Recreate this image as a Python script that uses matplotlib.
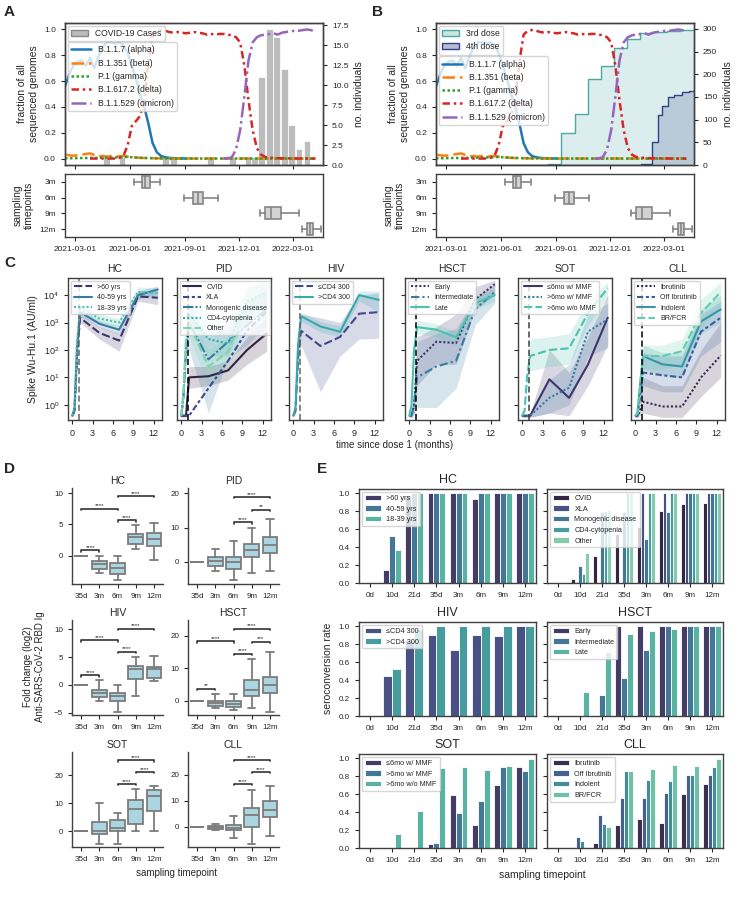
import numpy as np
import pandas as pd
import matplotlib
matplotlib.use("Agg")
import matplotlib.pyplot as plt
import matplotlib.dates as mdates
from matplotlib.patches import Patch
from matplotlib.ticker import NullLocator
import seaborn as sns

nan = np.nan

# ---------------- A / B : variant fractions (weekly) ----------------
weeks = pd.date_range("2021-02-12", periods=61, freq="7D")
alpha_frac = [0.56, 0.65, 0.72, 0.75, 0.76, 0.72, 0.78, 0.70, 0.79, 0.86,
              0.90, 0.90, 0.89, 0.90, 0.88, 0.82, 0.72, 0.62, 0.50, 0.40,
              0.27, 0.12, 0.05, 0.02, 0.01, 0.005, 0.003, 0.002, 0.001, 0.0,
              nan, nan, nan, nan, nan, nan, nan, nan, nan, nan,
              nan, nan, nan, nan, nan, nan, nan, nan, nan, nan,
              nan, nan, nan, nan, nan, nan, nan, nan, nan, nan,
              nan]
beta_frac = [0.030, 0.025, 0.022, 0.025, 0.030, 0.035, 0.040, 0.028, 0.015, 0.020,
             0.015, 0.020, 0.012, 0.018, 0.020, 0.015, 0.010, 0.008, 0.005, 0.004,
             0.003, 0.002, 0.002, 0.001, 0.001, 0, 0, 0, 0, 0,
             0, 0, 0, 0, 0, 0, 0, 0, 0, 0,
             0, 0, 0, 0, 0, 0, 0, 0, 0, 0,
             0, 0, 0, 0, 0, 0, 0, 0, 0, 0,
             0]
gamma_frac = [0.002, 0.002, 0.003, 0.003, 0.004, 0.004, 0.005, 0.005, 0.006, 0.006,
              0.007, 0.008, 0.008, 0.010, 0.012, 0.012, 0.010, 0.008, 0.006, 0.005,
              0.004, 0.003, 0.002, 0.002, 0.001, 0, 0, 0, 0, 0,
              0, 0, 0, 0, 0, 0, 0, 0, 0, 0,
              0, 0, 0, 0, 0, 0, 0, 0, 0, 0,
              0, 0, 0, 0, 0, 0, 0, 0, 0, 0,
              0]
delta_frac = [nan, nan, nan, nan, nan, nan, 0, 0, 0, 0,
              0, 0, 0, 0.005, 0.02, 0.10, 0.25, 0.29, 0.33, 0.45,
              0.75, 0.96, 0.99, 0.995, 0.99, 0.98, 0.975, 0.98, 0.975, 0.97,
              0.975, 0.98, 0.975, 0.97, 0.96, 0.965, 0.96, 0.965, 0.965, 0.96,
              0.955, 0.94, 0.90, 0.72, 0.45, 0.22, 0.08, 0.03, 0.012, 0.008,
              0.005, 0.003, 0.002, 0.002, 0.001, 0.001, 0, 0, 0, 0,
              0]
omicron_frac = [nan, nan, nan, nan, nan, nan, nan, nan, nan, nan,
                nan, nan, nan, nan, nan, nan, nan, nan, nan, nan,
                nan, nan, nan, nan, nan, nan, nan, nan, nan, nan,
                nan, nan, nan, nan, nan, nan, nan, nan, 0, 0.002,
                0.01, 0.07, 0.22, 0.48, 0.76, 0.90, 0.94, 0.955, 0.96, 0.965,
                0.97, 0.96, 0.975, 0.98, 0.985, 0.99, 0.99, 0.995, 1.0, 0.995,
                0.98]

case_dates = pd.to_datetime(["2021-04-23", "2021-05-19", "2021-07-31", "2021-08-13", "2021-10-14",
                             "2021-11-20", "2021-12-16", "2021-12-27", "2022-01-08", "2022-01-21",
                             "2022-02-02", "2022-02-15", "2022-02-27", "2022-03-12", "2022-03-25"])
case_counts = [1, 1, 1, 1, 1, 1, 1, 1, 11, 17, 16, 12, 5, 2, 3]

dose3_dates = pd.to_datetime(["2021-02-01", "2021-08-19", "2021-09-10", "2021-10-03", "2021-10-25",
                              "2021-11-16", "2021-12-07", "2021-12-29", "2022-01-21", "2022-02-12",
                              "2022-03-06", "2022-03-29", "2022-05-01"])
dose3_counts = [0, 2, 70, 112, 190, 218, 258, 277, 290, 293, 296, 298, 298]
dose4_dates = pd.to_datetime(["2021-02-01", "2022-01-22", "2022-02-09", "2022-02-19", "2022-02-27",
                              "2022-03-09", "2022-03-19", "2022-04-01", "2022-04-12", "2022-05-01"])
dose4_counts = [0, 2, 50, 110, 130, 150, 155, 160, 163, 163]

samp_labels = ["3m", "6m", "9m", "12m"]
samp_whislo = ["2021-06-07", "2021-08-31", "2022-01-05", "2022-03-16"]
samp_q1 = ["2021-06-21", "2021-09-14", "2022-01-13", "2022-03-25"]
samp_med = ["2021-06-27", "2021-09-24", "2022-01-23", "2022-03-30"]
samp_q3 = ["2021-07-05", "2021-10-02", "2022-02-09", "2022-04-05"]
samp_whishi = ["2021-07-21", "2021-10-27", "2022-03-11", "2022-04-18"]

# ---------------- C : antibody kinetics ----------------
t_months = [0, 0.33, 0.7, 1.15, 4.0, 6.9, 9.7, 12.6]

hc_groups = [">60 yrs", "40-59 yrs", "18-39 yrs"]
hc_mean = [[0.4, 0.6, 60, 1500, 420, 220, 9000, 8000],
           [0.4, 0.7, 120, 2400, 900, 550, 1.0e4, 1.6e4],
           [0.4, 0.8, 200, 3500, 1400, 1000, 1.3e4, 1.2e4]]
hc_lo = [[0.35, 0.5, 40, 1000, 250, 90, 6000, 4500],
         [0.35, 0.6, 80, 1800, 650, 380, 7000, 1.1e4],
         [0.35, 0.7, 150, 2600, 1000, 700, 9000, 8000]]
hc_hi = [[0.45, 0.8, 100, 2200, 700, 400, 1.5e4, 1.4e4],
         [0.45, 0.9, 200, 3200, 1200, 800, 1.4e4, 2.2e4],
         [0.45, 1.0, 300, 4500, 2000, 1400, 2.0e4, 1.8e4]]

pid_groups = ["CVID", "XLA", "Monogenic disease", "CD4-cytopenia", "Other"]
pid_mean = [[0.4, 0.4, 0.4, 10, 11, 18, 100, 400],
            [0.4, 0.4, 0.4, 0.4, 4, 40, 500, 2500],
            [0.4, 2, 100, 1000, 45, 200, 800, 3000],
            [0.4, 3, 200, 2000, 250, 170, 6000, 1.2e4],
            [0.4, 3, 300, 900, 25, 85, 5000, 1.0e4]]
pid_lo = [[0.35, 0.35, 0.35, 4, 5, 8, 30, 90],
          [0.4, 0.4, 0.4, 0.4, 4, 40, 500, 2500],
          [0.35, 1, 30, 100, 0.5, 50, 150, 800],
          [0.35, 2, 100, 700, 60, 60, 2000, 4000],
          [0.35, 2, 150, 300, 5, 20, 1000, 3000]]
pid_hi = [[0.45, 0.45, 0.45, 25, 25, 40, 300, 1500],
          [0.4, 0.4, 0.4, 0.4, 4, 40, 500, 2500],
          [0.45, 4, 300, 5000, 300, 800, 5000, 2.0e4],
          [0.45, 5, 400, 6000, 1000, 500, 2.0e4, 3.0e4],
          [0.45, 5, 600, 3000, 100, 300, 2.0e4, 3.0e4]]

hiv_groups = ["≤CD4 300", ">CD4 300"]
hiv_mean = [[0.4, 0.6, 50, 500, 140, 300, 2100, 2400],
            [0.4, 0.8, 150, 1700, 720, 460, 1.0e4, 6700]]
hiv_lo = [[0.35, 0.5, 20, 150, 3, 60, 250, 270],
          [0.35, 0.7, 100, 1100, 450, 300, 6000, 2500]]
hiv_hi = [[0.45, 0.8, 100, 2000, 1500, 1000, 1.0e4, 1.2e4],
          [0.45, 1.0, 250, 2400, 1100, 750, 1.4e4, 1.4e4]]

hsct_groups = ["Early", "Intermediate", "Late"]
hsct_mean = [[0.4, 0.4, 1, 40, 200, 180, 7000, 2.5e4],
             [0.4, 0.4, 1, 10, 25, 40, 3000, 1.3e4],
             [0.4, 1, 100, 680, 550, 290, 5000, 1.0e4]]
hsct_lo = [[0.35, 0.35, 0.5, 5, 30, 30, 3000, 1.0e4],
           [0.35, 0.35, 0.4, 0.8, 0.8, 4, 800, 5000],
           [0.35, 0.7, 50, 400, 300, 150, 3000, 6000]]
hsct_hi = [[0.45, 0.45, 3, 300, 700, 2000, 2.0e4, 3.5e4],
           [0.45, 0.45, 3, 200, 400, 600, 8000, 2.5e4],
           [0.45, 1.5, 200, 1200, 900, 450, 9000, 1.6e4]]

sot_groups = ["≤6mo w/ MMF", ">6mo w/ MMF", ">6mo w/o MMF"]
sot_mean = [[0.4, 0.4, 0.4, 0.4, 8.5, 1.8, 30, 1500],
            [0.4, 0.4, 0.4, 0.4, 1.8, 4.2, 470, 1300],
            [0.4, 0.6, 10, 60, 100, 115, 2200, 1.8e4]]
sot_lo = [[0.35, 0.35, 0.35, 0.35, 0.5, 0.4, 5, 150],
          [0.35, 0.35, 0.35, 0.35, 0.5, 1, 60, 120],
          [0.35, 0.5, 5, 17, 25, 30, 800, 8000]]
sot_hi = [[0.45, 0.45, 0.45, 0.45, 100, 15, 300, 1.0e4],
          [0.45, 0.45, 0.45, 0.45, 8, 30, 2000, 5000],
          [0.45, 0.8, 30, 250, 300, 400, 6000, 3.0e4]]

cll_groups = ["Ibrutinib", "Off Ibrutinib", "Indolent", "BR/FCR"]
cll_mean = [[0.4, 0.4, 0.6, 1.3, 0.87, 0.87, 10, 63],
            [0.4, 0.4, 2, 15, 12, 10, 470, 1500],
            [0.4, 0.5, 5, 60, 30, 25, 1100, 3000],
            [0.4, 0.5, 5, 60, 60, 90, 2200, 1.3e4]]
cll_lo = [[0.35, 0.35, 0.4, 0.5, 0.35, 0.35, 2, 10],
          [0.35, 0.35, 1, 5, 3, 3, 60, 200],
          [0.35, 0.4, 2, 20, 12, 10, 400, 1000],
          [0.35, 0.4, 2, 20, 20, 30, 600, 4000]]
cll_hi = [[0.45, 0.45, 1, 10, 5, 5, 100, 1000],
          [0.45, 0.45, 5, 80, 60, 60, 2000, 6000],
          [0.45, 0.6, 15, 150, 80, 80, 3000, 1.0e4],
          [0.45, 0.6, 15, 150, 150, 250, 7000, 3.0e4]]

# ---------------- D : fold change boxplots ----------------
d_cats = ["35d", "3m", "6m", "9m", "12m"]
hc_box = dict(lo=[0, -2.77, -3.94, 1.06, -0.64], q1=[0, -2.13, -2.98, 1.86, 1.60],
              med=[0, -1.33, -1.97, 2.98, 2.66], q3=[0, -0.80, -1.17, 3.46, 3.62],
              hi=[0, 0.0, -0.10, 4.84, 5.20])
pid_box = dict(lo=[0, -2.5, -5.2, -3.3, -2.5], q1=[0, -1.26, -2.1, 1.55, 2.7],
               med=[0, 0.39, 0.1, 3.5, 4.95], q3=[0, 1.55, 1.55, 5.1, 7.4],
               hi=[0, 3.8, 6.1, 9.9, 12.4])
hiv_box = dict(lo=[0, -3.0, -4.9, -2.1, 0.6], q1=[0, -2.2, -2.9, 1.08, 1.14],
               med=[0, -1.5, -2.0, 2.87, 2.87], q3=[0, -0.9, -1.4, 3.47, 3.3],
               hi=[0, 0.9, 0.0, 5.03, 5.27])
hsct_box = dict(lo=[0, -2.26, -3.0, -2.26, -3.5], q1=[0, -1.5, -1.95, 1.5, 2.26],
                med=[0, -0.8, -1.0, 3.4, 4.7], q3=[0, 0, 0, 6.26, 7.3],
                hi=[0, 2.15, 2.15, 12.9, 14.9])
sot_box = dict(lo=[0, -4.4, -4.7, 0, 0], q1=[0, -1.1, 0, 2.7, 7.2],
               med=[0, 0, 1.0, 7.8, 12.4], q3=[0, 3.4, 3.9, 11.2, 14.8],
               hi=[0, 10, 6.5, 14.9, 16.2])
cll_box = dict(lo=[0, -1.4, -4.4, -6.8, -3.7], q1=[0, -0.9, -1.4, 0, 3.85],
               med=[0, -0.25, -0.4, 4.6, 6.4], q3=[0, 0.4, 0.8, 7.05, 9.7],
               hi=[0, 1.15, 4.0, 14.2, 15.8])

hc_pairs, hc_stars, hc_sig_y = [(0, 1), (0, 2), (2, 3), (2, 4)], ["****"] * 4, [0.85, 7.5, 5.64, 9.47]
pid_pairs, pid_stars, pid_sig_y = [(2, 3), (2, 4), (3, 4)], ["****", "****", "**"], [11.5, 18.8, 15.2]
hiv_pairs, hiv_stars, hiv_sig_y = [(0, 1), (0, 2), (2, 3), (2, 4)], ["****"] * 4, [1.7, 8.0, 5.9, 10.1]
hsct_pairs = [(0, 1), (0, 2), (2, 3), (2, 4), (3, 4)]
hsct_stars = ["**", "****", "****", "****", "***"]
hsct_sig_y = [3.7, 18.3, 14.5, 22.2, 18.2]
sot_pairs, sot_stars, sot_sig_y = [(2, 3), (2, 4), (3, 4)], ["****"] * 3, [16.7, 25.2, 21.0]
cll_pairs, cll_stars, cll_sig_y = [(2, 3), (2, 4), (3, 4)], ["****"] * 3, [16.3, 25.5, 20.9]

# ---------------- E : seroconversion ----------------
e_cats = ["0d", "10d", "21d", "35d", "3m", "6m", "9m", "12m"]
hc_sero = [[0, 0.15, 0.98, 1.0, 1.0, 0.94, 1.0, 1.0],
           [0, 0.52, 1.0, 1.0, 1.0, 1.0, 1.0, 1.0],
           [0, 0.37, 1.0, 1.0, 1.0, 1.0, 1.0, 1.0]]
pid_sero = [[0, 0.05, 0.30, 0.55, 0.63, 0.80, 0.88, 0.89],
            [0, 0, 0, 0, 1.0, 1.0, 1.0, 1.0],
            [0, 0.19, 0.79, 0.79, 0.49, 0.79, 1.0, 1.0],
            [0, 0.10, 0.80, 1.0, 1.0, 1.0, 1.0, 1.0],
            [0, 0.33, 0.82, 1.0, 1.0, 1.0, 1.0, 1.0]]
hiv_sero = [[0, 0.45, 0.85, 0.90, 0.74, 0.90, 0.89, 1.0],
            [0, 0.52, 0.97, 1.0, 1.0, 1.0, 1.0, 1.0]]
hsct_sero = [[0, 0, 0, 1.0, 1.0, 1.0, 1.0, 1.0],
             [0, 0, 0.24, 0.42, 0.74, 1.0, 1.0, 1.0],
             [0, 0.27, 0.72, 0.92, 0.95, 0.97, 1.0, 1.0]]
sot_sero = [[0, 0, 0, 0.05, 0.59, 0.26, 0.70, 0.90],
            [0, 0, 0, 0.06, 0.39, 0.53, 0.91, 0.86],
            [0, 0.16, 0.41, 0.89, 0.91, 0.87, 0.92, 0.99]]
cll_sero = [[0, 0, 0.06, 0.26, 0.32, 0.28, 0.60, 0.72],
            [0, 0.12, 0.37, 0.56, 0.56, 0.61, 0.82, 0.82],
            [0, 0.08, 0.27, 0.86, 0.76, 0.75, 0.81, 0.90],
            [0, 0, 0.23, 0.86, 0.88, 0.93, 0.92, 0.99]]

# ---------------- style ----------------
sns.set_style("ticks")
plt.rcParams["font.family"] = ["Liberation Sans", "DejaVu Sans"]
plt.rcParams.update({
    "font.size": 6, "axes.labelsize": 7.5, "xtick.labelsize": 6, "ytick.labelsize": 6,
    "legend.fontsize": 5.5, "axes.linewidth": 1.0, "axes.edgecolor": "0.25",
    "xtick.major.size": 3, "ytick.major.size": 3, "xtick.major.width": 0.8,
    "ytick.major.width": 0.8, "axes.titlesize": 7.5, "axes.titlepad": 4,
})

W, H = 738, 905
fig = plt.figure(figsize=(W / 100, H / 100), dpi=100)


def add_ax(l, t, r, b, **kw):
    return fig.add_axes([l / W, 1 - b / H, (r - l) / W, (b - t) / H], **kw)


def variant_lines(ax):
    ax.plot(weeks, alpha_frac, color="tab:blue", lw=1.8, label="B.1.1.7 (alpha)")
    ax.plot(weeks, beta_frac, color="tab:orange", lw=1.8, ls=(0, (5, 2)), label="B.1.351 (beta)")
    ax.plot(weeks, gamma_frac, color="tab:green", lw=1.8, ls=(0, (1, 1)), label="P.1 (gamma)")
    ax.plot(weeks, delta_frac, color="tab:red", lw=1.8, ls=(0, (3, 1.5, 1, 1.5)), label="B.1.617.2 (delta)")
    ax.plot(weeks, omicron_frac, color="tab:purple", lw=1.8, ls=(0, (6, 1.5, 1, 1.5)),
            label="B.1.1.529 (omicron)")
    ax.set_ylim(-0.05, 1.05)
    ax.set_yticks([0, 0.2, 0.4, 0.6, 0.8, 1.0])
    ax.set_ylabel("fraction of all\nsequenced genomes")
    ax.tick_params(labelbottom=False)


def sampling_boxes(ax):
    stats = []
    for i in range(len(samp_labels)):
        stats.append(dict(whislo=mdates.date2num(pd.Timestamp(samp_whislo[i])),
                          q1=mdates.date2num(pd.Timestamp(samp_q1[i])),
                          med=mdates.date2num(pd.Timestamp(samp_med[i])),
                          q3=mdates.date2num(pd.Timestamp(samp_q3[i])),
                          whishi=mdates.date2num(pd.Timestamp(samp_whishi[i])), fliers=[]))
    grey = "#858585"
    ax.bxp(stats, positions=range(4), widths=0.75, orientation="horizontal", patch_artist=True,
           showfliers=False,
           boxprops=dict(facecolor="#d3d3d3", edgecolor=grey, lw=1.2),
           medianprops=dict(color=grey, lw=1.2), whiskerprops=dict(color=grey, lw=1.2),
           capprops=dict(color=grey, lw=1.2))
    ax.set_yticks(range(4), samp_labels)
    ax.set_ylim(3.5, -0.5)
    ax.set_ylabel("sampling\ntimepoints")
    ax.xaxis.set_major_locator(mdates.MonthLocator(bymonth=[3, 6, 9, 12], bymonthday=1))
    ax.xaxis.set_major_formatter(mdates.DateFormatter("%Y-%m-%d"))
    ax.set_xlim(pd.Timestamp("2021-02-12"), pd.Timestamp("2022-04-21"))


# ---- A ----
axA = add_ax(65, 23, 323, 165)
axA2 = axA.twinx()
axA2.bar(case_dates, case_counts, width=11, color="#bcbcbc", edgecolor="white", lw=0.5)
axA2.set_ylim(0, 17.8)
axA2.set_yticks(np.arange(0, 17.6, 2.5))
axA2.set_ylabel("no. individuals")
axA.set_zorder(axA2.get_zorder() + 1)
axA.patch.set_visible(False)
variant_lines(axA)
legA = axA.legend(handles=[Patch(facecolor="#bcbcbc", edgecolor="#8a8a8a", label="COVID-19 Cases")],
                  loc="upper left", bbox_to_anchor=(0.0, 1.0), borderaxespad=0.3, fontsize=6.2)
axA.add_artist(legA)
axA.legend(loc="upper left", bbox_to_anchor=(0.0, 0.885), borderaxespad=0.3, fontsize=6.2,
           handlelength=2.3)
axAb = add_ax(65, 174, 323, 237, sharex=axA)
sampling_boxes(axAb)

# ---- B ----
axB = add_ax(436, 23, 694, 165)
axB2 = axB.twinx()
c3, c4 = "#4fa8a4", "#34408a"
axB2.fill_between(dose3_dates, dose3_counts, step="post", color=c3, alpha=0.2, lw=0)
axB2.step(dose3_dates, dose3_counts, where="post", color=c3, lw=1.0)
axB2.fill_between(dose4_dates, dose4_counts, step="post", color=c4, alpha=0.2, lw=0)
axB2.step(dose4_dates, dose4_counts, where="post", color=c4, lw=1.0)
axB2.set_ylim(0, 313)
axB2.set_yticks(np.arange(0, 301, 50))
axB2.set_ylabel("no. individuals")
axB.set_zorder(axB2.get_zorder() + 1)
axB.patch.set_visible(False)
variant_lines(axB)
legB = axB.legend(handles=[Patch(facecolor=(0.31, 0.66, 0.64, 0.3), edgecolor=c3, label="3rd dose"),
                           Patch(facecolor=(0.2, 0.25, 0.54, 0.35), edgecolor=c4, label="4th dose")],
                  loc="upper left", bbox_to_anchor=(0.0, 1.0), borderaxespad=0.3, fontsize=6.2)
axB.add_artist(legB)
axB.legend(loc="upper left", bbox_to_anchor=(0.0, 0.785), borderaxespad=0.3, fontsize=6.2,
           handlelength=2.3)
axBb = add_ax(436, 174, 694, 237, sharex=axB)
sampling_boxes(axBb)

# ---- C ----
c_panels = [("HC", hc_groups, hc_mean, hc_lo, hc_hi),
            ("PID", pid_groups, pid_mean, pid_lo, pid_hi),
            ("HIV", hiv_groups, hiv_mean, hiv_lo, hiv_hi),
            ("HSCT", hsct_groups, hsct_mean, hsct_lo, hsct_hi),
            ("SOT", sot_groups, sot_mean, sot_lo, sot_hi),
            ("CLL", cll_groups, cll_mean, cll_lo, cll_hi)]
c_styles = [[(0, (4, 1.5)), "-", (0, (1, 1))],
            ["-", (0, (3, 1.25, 1.5, 1.25)), (0, (5, 1, 1, 1)), (0, (1, 1)), (0, (4, 1.5))],
            [(0, (4, 1.5)), "-"],
            [(0, (1, 1)), (0, (4, 1.5, 1, 1.5)), "-"],
            ["-", (0, (1, 1)), (0, (4, 1.5))],
            [(0, (1, 1)), (0, (3, 1.25, 1.5, 1.25)), "-", (0, (4, 1.5))]]
c_vline = ["0.4", "k", "0.4", "k", "0.25", "k"]
c_left = [68, 177, 289, 405, 518, 631]
c_first = None
for k, (title, groups, mean, lo, hi) in enumerate(c_panels):
    ax = add_ax(c_left[k], 278, c_left[k] + 94, 420, sharey=c_first)
    if c_first is None:
        c_first = ax
    pal = sns.color_palette("mako", len(groups))
    for g, m, l, h, s, col in zip(groups, mean, lo, hi, c_styles[k], pal):
        ax.fill_between(t_months, l, h, color=col, alpha=0.2, lw=0)
        ax.plot(t_months, m, color=col, ls=s, lw=1.5, label=g)
    ax.axvline(1, color=c_vline[k], ls=(0, (4, 2)), lw=1.1)
    ax.set_yscale("log")
    ax.set_ylim(0.28, 4.2e4)
    ax.yaxis.set_minor_locator(NullLocator())
    ax.set_xticks([0, 3, 6, 9, 12])
    ax.tick_params(labelsize=6.5)
    ax.set_title(title)
    ax.legend(loc="upper left", fontsize=5, handlelength=2.6, borderaxespad=0.4)
    if k == 0:
        ax.set_ylabel("Spike Wu-Hu.1 (AU/ml)", fontsize=7.5)
    else:
        ax.tick_params(labelleft=False)
fig.text(395 / W, 1 - 445 / H, "time since dose 1 (months)", ha="center", va="center", fontsize=7)

# ---- D ----
d_panels = [("HC", hc_box, hc_pairs, hc_stars, hc_sig_y, (-4.5, 10.8), [0, 5, 10]),
            ("PID", pid_box, pid_pairs, pid_stars, pid_sig_y, (-6.4, 21.5), [0, 10, 20]),
            ("HIV", hiv_box, hiv_pairs, hiv_stars, hiv_sig_y, (-5.45, 11.7), [-5, 0, 5, 10]),
            ("HSCT", hsct_box, hsct_pairs, hsct_stars, hsct_sig_y, (-4.4, 24.9), [0, 10, 20]),
            ("SOT", sot_box, sot_pairs, sot_stars, sot_sig_y, (-5.6, 28.2), [0, 10, 20]),
            ("CLL", cll_box, cll_pairs, cll_stars, cll_sig_y, (-7.8, 28.7), [0, 10, 20])]
d_cols = [(72, 163), (188, 279)]
d_rows = [(488, 584), (620, 715), (752, 847)]
dgrey = "#7c7c7c"
for k, (title, box, pairs, stars, sig_y, ylim, yt) in enumerate(d_panels):
    (l, r), (t, b) = d_cols[k % 2], d_rows[k // 2]
    ax = add_ax(l, t, r, b)
    stats = [dict(whislo=box["lo"][i], q1=box["q1"][i], med=box["med"][i], q3=box["q3"][i],
                  whishi=box["hi"][i], fliers=[]) for i in range(len(d_cats))]
    ax.bxp(stats, positions=range(len(d_cats)), widths=0.8, patch_artist=True, showfliers=False,
           boxprops=dict(facecolor="#acd5e2", edgecolor=dgrey, lw=1.3),
           medianprops=dict(color=dgrey, lw=1.3), whiskerprops=dict(color=dgrey, lw=1.3),
           capprops=dict(color=dgrey, lw=1.3))
    ax.set_xticks(range(len(d_cats)), d_cats)
    ax.set_xlim(-0.5, 4.5)
    ax.set_ylim(*ylim)
    ax.set_yticks(yt)
    tick = 0.012 * (ylim[1] - ylim[0])
    for (i, j), s, y in zip(pairs, stars, sig_y):
        ax.plot([i, i, j, j], [y - tick, y, y, y - tick], color="0.2", lw=1.2)
        ax.text((i + j) / 2, y + tick * 0.6, s, ha="center", va="bottom", fontsize=4.5)
    ax.spines[["top", "right"]].set_visible(False)
    ax.tick_params(labelsize=5.8)
    ax.set_title(title, fontsize=7.5, pad=3)
fig.text(34 / W, 1 - 667 / H, "Fold change (log2)\nAnti-SARS-CoV-2 RBD Ig", rotation=90,
         ha="center", va="center", fontsize=7, multialignment="center")
fig.text(176 / W, 1 - 873 / H, "sampling timepoint", ha="center", va="center", fontsize=7)

# ---- E ----
e_panels = [("HC", hc_groups, hc_sero), ("PID", pid_groups, pid_sero),
            ("HIV", hiv_groups, hiv_sero), ("HSCT", hsct_groups, hsct_sero),
            ("SOT", sot_groups, sot_sero), ("CLL", cll_groups, cll_sero)]
e_cols = [(359, 536), (547, 723)]
e_rows = [(489, 583), (622, 716), (754, 848)]
x = np.arange(len(e_cats))
for k, (title, groups, vals) in enumerate(e_panels):
    (l, r), (t, b) = e_cols[k % 2], e_rows[k // 2]
    ax = add_ax(l, t, r, b)
    n = len(groups)
    pal = sns.color_palette("mako", n)
    w = 0.8 / n
    for gi, (g, v) in enumerate(zip(groups, vals)):
        ax.bar(x - 0.4 + w * (gi + 0.5), v, width=w, color=sns.desaturate(pal[gi], 0.75),
               edgecolor="white", lw=0.6, label=g)
    ax.set_xticks(x, e_cats)
    ax.set_xlim(-0.5, 7.5)
    ax.set_ylim(0, 1.05)
    ax.set_yticks([0, 0.2, 0.4, 0.6, 0.8, 1.0])
    ax.tick_params(labelsize=5.8)
    if k % 2 == 1:
        ax.tick_params(labelleft=False)
    ax.set_title(title, fontsize=9, pad=4)
    ax.legend(loc="upper left", fontsize=5.2, handlelength=2.2, borderaxespad=0.4)
fig.text(328 / W, 1 - 668 / H, "seroconversion rate", rotation=90, ha="center", va="center", fontsize=7.5)
fig.text(542 / W, 1 - 875 / H, "sampling timepoint", ha="center", va="center", fontsize=7.5)

# panel letters
for letter, px, py in [("A", 4, 5), ("B", 372, 5), ("C", 4, 256), ("D", 4, 462), ("E", 317, 462)]:
    fig.text(px / W, 1 - py / H, letter, fontsize=11, fontweight="bold", va="top", ha="left")

fig.savefig("out.png", dpi=100)
